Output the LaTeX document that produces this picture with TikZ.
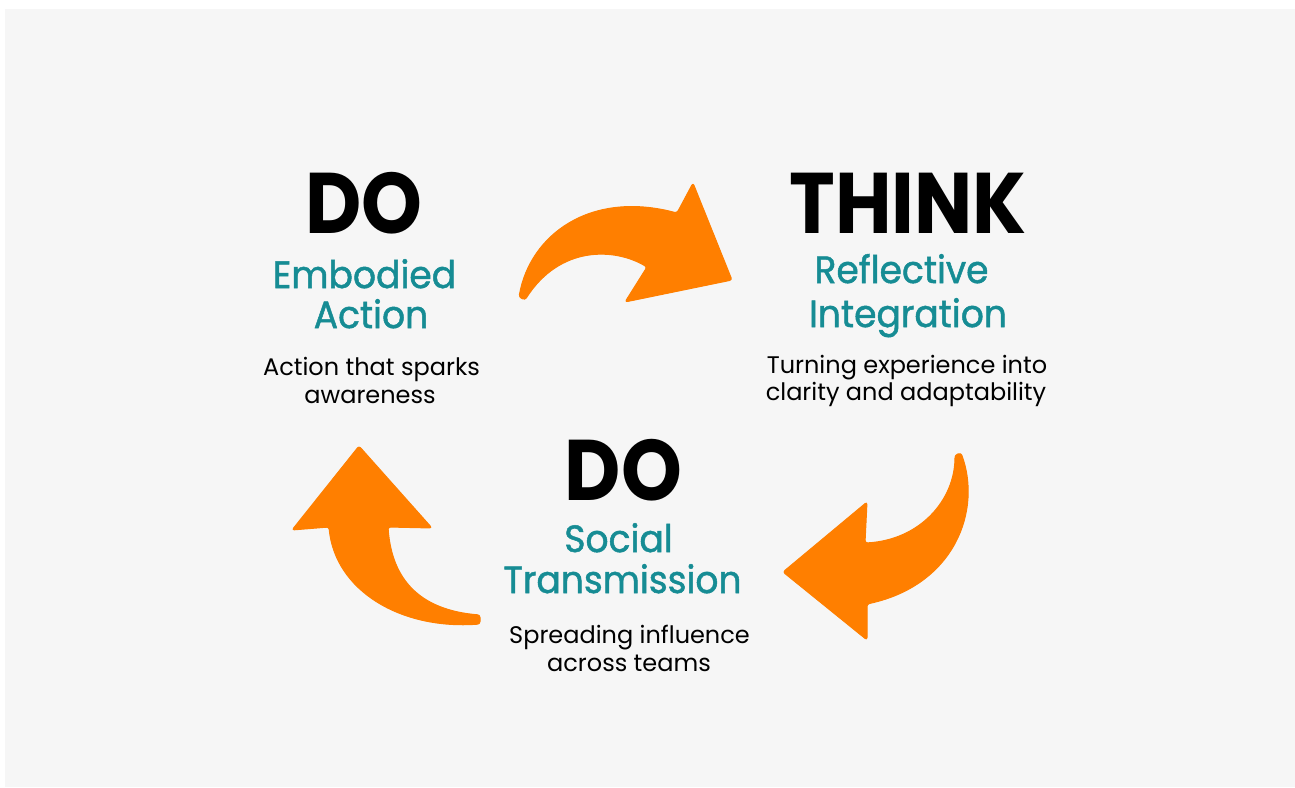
\documentclass[tikz,border=0pt]{standalone}
\usepackage{graphicx}
\usepackage{fontspec}
\setmainfont{Poppins}
\newfontfamily\tealface{Poppins}[FakeBold=1.3]
\definecolor{bgpanel}{HTML}{F6F6F6}
\definecolor{cycleorange}{HTML}{FF7F00}
\definecolor{tealhead}{HTML}{168C94}
% narrower set widths for the big and the teal titles
\newcommand{\headtext}[1]{\scalebox{0.9}[1]{#1}}
\newcommand{\tealtext}[1]{\scalebox{0.95}[1]{#1}}
\tikzset{
  heading/.style={anchor=base, inner sep=0pt, text depth=0pt, font=\fontsize{86}{86}\selectfont\bfseries, text=black},
  subhead/.style={anchor=base, inner sep=0pt, text height=29pt, font=\fontsize{38}{38}\selectfont\tealface, text=tealhead},
  caption/.style={anchor=base, inner sep=0pt, font=\fontsize{24}{24}\selectfont, text=black},
  cyclearrow/.style={fill=cycleorange, draw=cycleorange, line width=1pt, line join=round, rounded corners=2.5pt},
}
\begin{document}
\begin{tikzpicture}[x=1pt, y=-1pt]
  % page and panel
  \useasboundingbox (0,0) rectangle (1295,787);
  \fill[white] (0,0) rectangle (1295,787);
  \fill[bgpanel] (5,9) rectangle (1295,787);

  % top arrow: DO -> THINK
  \draw[cyclearrow] (519,297)
    .. controls (530,235) and (590,190) .. (677,213)
    -- (693,183) -- (732,280) -- (625,302) -- (647,267)
    .. controls (615,248) and (560,245) .. (525,300) -- cycle;

  % right arrow: THINK -> DO (social)
  \draw[cyclearrow] (961,453)
    .. controls (982,510) and (955,585) .. (867,604)
    -- (867,640) -- (783,572) -- (867,502) -- (865,543)
    .. controls (920,540) and (955,500) .. (955,455) -- cycle;

  % left arrow: DO (social) -> DO (embodied)
  \draw[cyclearrow] (388,527)
    .. controls (392,580) and (420,610) .. (480,615)
    -- (480,624)
    .. controls (400,630) and (335,590) .. (329,527)
    -- (292,530) -- (359,446) -- (432,528) -- cycle;

  % embodied action block
  \node[heading] (doA) at (364,233) {\headtext{DO}};
  \node[subhead] (embA) at (364.5,288) {\tealtext{Embodied}};
  \node[subhead] (embB) at (371,328) {\tealtext{Action}};
  \node[caption] (capA1) at (371.5,375) {Action that sparks};
  \node[caption] (capA2) at (370,403) {awareness};

  % reflective integration block
  \node[heading] (think) at (908,233) {\headtext{THINK}};
  \node[subhead] (refA) at (901.5,283) {\tealtext{Reflective}};
  \node[subhead] (refB) at (908,327) {\tealtext{Integration}};
  \node[caption] (capB1) at (907,373) {Turning experience into};
  \node[caption] (capB2) at (906,400) {clarity and adaptability};

  % social transmission block
  \node[heading] (doB) at (623.5,500) {\headtext{DO}};
  \node[subhead] (socA) at (618.5,552) {\tealtext{Social}};
  \node[subhead] (socB) at (622.5,593) {\tealtext{Transmission}};
  \node[caption] (capC1) at (629.5,643) {Spreading influence};
  \node[caption] (capC2) at (629,671) {across teams};
\end{tikzpicture}
\end{document}
